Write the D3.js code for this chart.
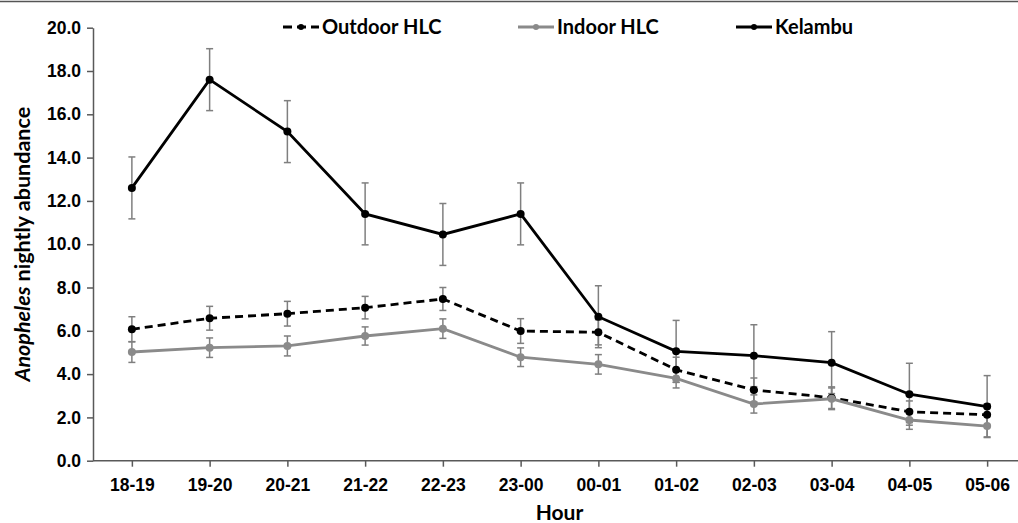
<!DOCTYPE html>
<html>
<head>
<meta charset="utf-8">
<script src="https://cdn.jsdelivr.net/npm/d3@7"></script>
<style>
  body { margin: 0; background: #fff; }
  svg { display: block; font-family: Lato, "Open Sans", sans-serif; font-weight: bold; }
</style>
</head>
<body>
<svg id="chart"></svg>
<script>
// data
const hours = ['18-19', '19-20', '20-21', '21-22', '22-23', '23-00', '00-01', '01-02', '02-03', '03-04', '04-05', '05-06'];
const outdoor = [6.07, 6.58, 6.79, 7.07, 7.47, 5.99, 5.93, 4.2, 3.27, 2.91, 2.26, 2.12];
const outdoorErr = [0.58, 0.55, 0.57, 0.52, 0.53, 0.57, 0.58, 0.58, 0.55, 0.5, 0.5, 0.5];
const indoor = [5.02, 5.22, 5.3, 5.76, 6.1, 4.78, 4.45, 3.8, 2.62, 2.86, 1.88, 1.6];
const indoorErr = [0.48, 0.45, 0.46, 0.42, 0.45, 0.43, 0.45, 0.44, 0.42, 0.5, 0.43, 0.5];
const kelambu = [12.6, 17.6, 15.2, 11.4, 10.45, 11.4, 6.65, 5.05, 4.85, 4.53, 3.07, 2.5];
const kelambuErr = [1.43, 1.43, 1.43, 1.43, 1.43, 1.43, 1.43, 1.43, 1.43, 1.43, 1.43, 1.43];
const yTicks = [0, 2, 4, 6, 8, 10, 12, 14, 16, 18, 20];

const width = 1018, height = 523;
const svg = d3.select('#chart').attr('width', width).attr('height', height);

// frame line on top
svg.append('line')
  .attr('x1', 0).attr('x2', width).attr('y1', 1.5).attr('y2', 1.5)
  .attr('stroke', '#555').attr('stroke-width', 1.5);

const x = d3.scalePoint().domain(hours).range([93, 1026]).padding(0.5);
const y = d3.scaleLinear().domain([0, 20]).range([460.7, 27.7]);

const axisColor = '#595959';

// y axis
const yAxis = svg.append('g')
  .attr('transform', 'translate(93,0)')
  .call(d3.axisLeft(y).tickValues(yTicks).tickFormat(d3.format('.1f')).tickSize(6).tickSizeOuter(0).tickPadding(6));
yAxis.select('.domain').attr('stroke', axisColor).attr('stroke-width', 1.5);
yAxis.selectAll('.tick line').attr('stroke', axisColor).attr('stroke-width', 1.5);
yAxis.selectAll('.tick text').attr('fill', '#000').style('font-size', '17.5px').style('font-weight', 'bold');

// x axis
const xAxis = svg.append('g')
  .attr('transform', `translate(0,${y(0)})`)
  .call(d3.axisBottom(x).tickSize(6).tickSizeOuter(0).tickPadding(12));
xAxis.select('.domain').attr('stroke', axisColor).attr('stroke-width', 1.5)
  .attr('d', `M93,0H1026`);
xAxis.selectAll('.tick line').attr('stroke', axisColor).attr('stroke-width', 1.5);
xAxis.selectAll('.tick text').attr('fill', '#000').style('font-size', '17.5px').style('font-weight', 'bold');

// axis titles
svg.append('text')
  .attr('x', 559.5).attr('y', 519.5)
  .attr('text-anchor', 'middle')
  .style('font-size', '21px')
  .text('Hour');

const yTitle = svg.append('text')
  .attr('transform', `translate(30,${(y(0) + y(20)) / 2}) rotate(-90)`)
  .attr('text-anchor', 'middle')
  .style('font-size', '21.5px');
yTitle.append('tspan').style('font-style', 'italic').text('Anopheles');
yTitle.append('tspan').text(' nightly abundance');

const series = [
  { name: 'Outdoor HLC', values: outdoor, err: outdoorErr, color: '#000', dash: '8,5', legendX: 283 },
  { name: 'Indoor HLC', values: indoor, err: indoorErr, color: '#8a8a8a', dash: null, legendX: 518 },
  { name: 'Kelambu', values: kelambu, err: kelambuErr, color: '#000', dash: null, legendX: 736 }
];

// error bars
series.forEach(s => {
  const g = svg.append('g').attr('stroke', '#7f7f7f').attr('stroke-width', 1.5);
  hours.forEach((h, i) => {
    const cx = x(h);
    const top = y(s.values[i] + s.err[i]);
    const bot = y(s.values[i] - s.err[i]);
    g.append('line').attr('x1', cx).attr('x2', cx).attr('y1', top).attr('y2', bot);
    g.append('line').attr('x1', cx - 3.5).attr('x2', cx + 3.5).attr('y1', top).attr('y2', top);
    g.append('line').attr('x1', cx - 3.5).attr('x2', cx + 3.5).attr('y1', bot).attr('y2', bot);
  });
});

const line = d3.line().x((d, i) => x(hours[i])).y(d => y(d));

// lines and markers
series.forEach(s => {
  svg.append('path')
    .datum(s.values)
    .attr('d', line)
    .attr('fill', 'none')
    .attr('stroke', s.color)
    .attr('stroke-width', 2.8)
    .attr('stroke-dasharray', s.dash);
  svg.append('g').selectAll('circle')
    .data(s.values)
    .enter()
    .append('circle')
      .attr('cx', (d, i) => x(hours[i]))
      .attr('cy', d => y(d))
      .attr('r', 4)
      .attr('fill', s.color);
});

// legend
series.forEach(s => {
  const lg = svg.append('g').attr('transform', `translate(${s.legendX},27)`);
  lg.append('line')
    .attr('x1', 0).attr('x2', 36).attr('y1', 0).attr('y2', 0)
    .attr('stroke', s.color).attr('stroke-width', 2.8)
    .attr('stroke-dasharray', s.dash ? '9,5' : null);
  lg.append('circle').attr('cx', 18).attr('cy', 0).attr('r', 3).attr('fill', s.color);
  lg.append('text')
    .attr('x', 39).attr('y', 7)
    .style('font-size', '20px')
    .text(s.name);
});
</script>
</body>
</html>
